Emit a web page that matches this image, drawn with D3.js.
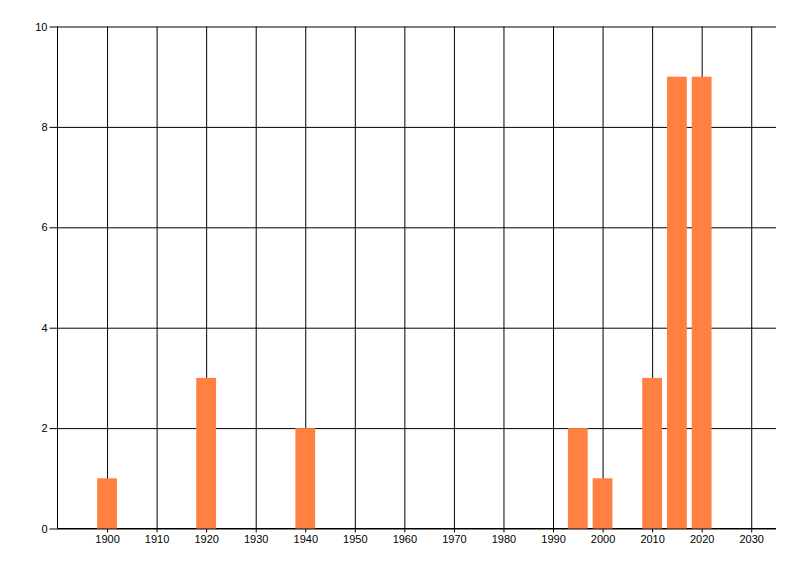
<!DOCTYPE html>
<html>
<head>
<meta charset="utf-8">
<script src="https://cdn.jsdelivr.net/npm/d3@7"></script>
<style>
  html, body { margin: 0; padding: 0; background: #fff; }
  svg text { font-family: "Liberation Sans", Arial, sans-serif; font-size: 11px; fill: #000; }
</style>
</head>
<body>
<svg width="800" height="576"></svg>
<script>
var years = [1900, 1920, 1940, 1995, 2000, 2010, 2015, 2020];
var counts = [1, 3, 2, 2, 1, 3, 9, 9];
var xTicks = [1900, 1910, 1920, 1930, 1940, 1950, 1960, 1970, 1980, 1990, 2000, 2010, 2020, 2030];
var yTicks = [0, 2, 4, 6, 8, 10];

(function (d3) {
  var svg = d3.select("svg")
    , plotLeft = 57.5
    , plotRight = 776
    , plotTop = 26.5
    , plotBottom = 528.5
    , barYears = 4
    ;

  var x = d3.scaleLinear().domain([1890, 2035]).range([plotLeft, plotRight]);
  var y = d3.scaleLinear().domain([0, 10]).range([plotBottom, plotTop]);

  // horizontal grid + y labels
  var yAxis = svg.append("g")
    .attr("transform", "translate(" + plotLeft + ",0)")
    .call(d3.axisLeft(y).tickValues(yTicks).tickSize(-(plotRight - plotLeft)).tickSizeOuter(0));
  yAxis.select(".domain").remove();
  yAxis.selectAll(".tick line").attr("x1", -8).attr("stroke", "#000");
  yAxis.selectAll(".tick text").attr("x", -10);
  yAxis.attr("font-family", null).attr("font-size", null);

  // vertical grid + x labels
  var xAxis = svg.append("g")
    .attr("transform", "translate(0," + plotBottom + ")")
    .call(d3.axisBottom(x).tickValues(xTicks).tickFormat(d3.format("d")).tickSize(-(plotBottom - plotTop)).tickSizeOuter(0));
  xAxis.select(".domain").remove();
  xAxis.selectAll(".tick line").attr("y1", 4).attr("stroke", "#000");
  xAxis.selectAll(".tick text").attr("y", 7).attr("dy", "0.71em");
  xAxis.attr("font-family", null).attr("font-size", null);

  // axis lines
  svg.append("line")
    .attr("x1", plotLeft).attr("x2", plotLeft).attr("y1", plotTop).attr("y2", plotBottom)
    .attr("stroke", "#000");
  svg.append("line")
    .attr("x1", plotLeft).attr("x2", plotRight).attr("y1", plotBottom).attr("y2", plotBottom)
    .attr("stroke", "#000");

  // bars
  svg.append("g").selectAll("rect")
    .data(years)
    .enter().append("rect")
    .attr("x", function (d) { return x(d - barYears / 2); })
    .attr("width", function (d) { return x(d + barYears / 2) - x(d - barYears / 2); })
    .attr("y", function (d, i) { return y(counts[i]); })
    .attr("height", function (d, i) { return y(0) - y(counts[i]); })
    .style("fill", "#ff8040");
})(d3);
</script>
</body>
</html>
